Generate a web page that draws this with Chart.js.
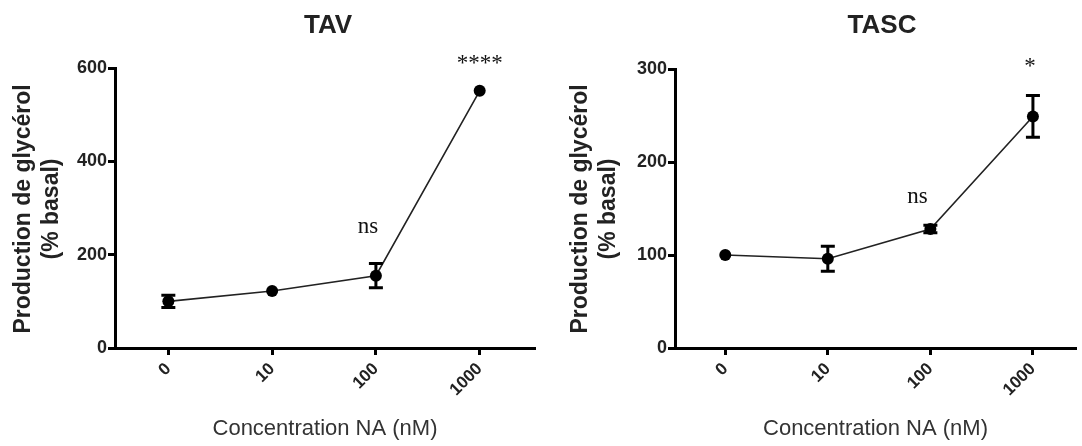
<!DOCTYPE html>
<html>
<head>
<meta charset="utf-8">
<script src="https://cdn.jsdelivr.net/npm/chart.js@4.4.1/dist/chart.umd.min.js"></script>
<style>
    body { margin: 0; background: #fff; }
    .panel { position: absolute; top: 0; }
</style>
</head>
<body>
<canvas id="tav_chart" class="panel" width="541" height="446" style="left: 0px;"></canvas>
<canvas id="tasc_chart" class="panel" width="541" height="446" style="left: 541px;"></canvas>

<script>
// concentrations of NA (nM)
const concentrations = ['0', '10', '100', '1000']

// TAV
const tavMean = [100, 122, 155, 551]
const tavSem = [13, 3, 26, 4]
const tavSignif = ['', '', 'ns', '****']
const tavTicks = [0, 200, 400, 600]

// TASC
const tascMean = [100, 96, 128, 249]
const tascSem = [1, 13.5, 4, 22.5]
const tascSignif = ['', '', 'ns', '*']
const tascTicks = [0, 100, 200, 300]

const textColor = '#222'
const sans = '"Liberation Sans", Arial, sans-serif'
const serif = '"Liberation Serif", "Times New Roman", serif'

// error bars, significance marks, titles
const decorations = {
    id: 'decorations',
    afterDatasetsDraw(chart, args, opts) {
        const ctx = chart.ctx
        const x = chart.scales.x
        const y = chart.scales.y

        ctx.save()
        ctx.strokeStyle = '#000'
        ctx.lineWidth = 3
        opts.mean.forEach((m, i) => {
            const px = x.getPixelForValue(i)
            const top = y.getPixelForValue(m + opts.sem[i])
            const bot = y.getPixelForValue(m - opts.sem[i])
            // bars shorter than the symbol are hidden, like in the original
            if ((bot - top) / 2 < 3) return
            ctx.beginPath()
            ctx.moveTo(px, top)
            ctx.lineTo(px, bot)
            ctx.moveTo(px - 7, top)
            ctx.lineTo(px + 7, top)
            ctx.moveTo(px - 7, bot)
            ctx.lineTo(px + 7, bot)
            ctx.stroke()
        })

        ctx.fillStyle = '#111'
        ctx.textAlign = 'center'
        ctx.textBaseline = 'alphabetic'
        ctx.font = '23px ' + serif
        opts.signif.forEach((s, i) => {
            if (!s) return
            const off = opts.signifOffset[i]
            const px = x.getPixelForValue(i) + off[0]
            const py = y.getPixelForValue(opts.mean[i] + opts.sem[i]) + off[1]
            ctx.fillText(s, px, py)
        })

        ctx.fillStyle = textColor
        ctx.font = 'bold 26px ' + sans
        ctx.fillText(opts.title, opts.titleX, 33)

        ctx.font = 'bold 23px ' + sans
        ctx.textBaseline = 'middle'
        ctx.translate(opts.yTitleX, opts.yTitleY)
        ctx.rotate(-Math.PI / 2)
        ctx.fillText('Production de glycérol', 0, 0)
        ctx.fillText('(% basal)', 0, 28)
        ctx.restore()
    }
}

function axisStyle() {
    return {
        border: { display: true, color: '#000', width: 3 },
        grid: { drawOnChartArea: false, drawTicks: true, tickLength: 7, tickWidth: 3, tickColor: '#000' }
    }
}

function createChart(id, mean, sem, signif, yTicks, cfg) {
    const ctx = document.getElementById(id).getContext('2d')
    return new Chart(ctx, {
        type: 'line',
        data: {
            datasets: [{
                data: mean.map((v, i) => ({ x: i, y: v })),
                borderColor: '#222',
                borderWidth: 1.6,
                pointRadius: 6,
                pointBackgroundColor: '#000',
                pointBorderColor: '#000',
                pointBorderWidth: 0,
                tension: 0
            }]
        },
        options: {
            responsive: false,
            animation: false,
            devicePixelRatio: 1,
            layout: { padding: { top: cfg.top, right: cfg.right, left: 0, bottom: 0 } },
            scales: {
                x: {
                    type: 'linear',
                    min: cfg.xMin,
                    max: cfg.xMax,
                    ...axisStyle(),
                    afterBuildTicks: scale => { scale.ticks = concentrations.map((c, i) => ({ value: i })) },
                    afterFit: scale => { scale.height = 98 },
                    ticks: {
                        autoSkip: false,
                        minRotation: 45,
                        maxRotation: 45,
                        padding: 4,
                        color: textColor,
                        font: { family: sans, size: 17, weight: 'bold' },
                        callback: v => concentrations[v]
                    },
                    title: {
                        display: true,
                        text: 'Concentration NA (nM)',
                        color: '#333',
                        padding: { top: 0, bottom: 4 },
                        font: { family: sans, size: 22 }
                    }
                },
                y: {
                    min: yTicks[0],
                    max: yTicks[yTicks.length - 1],
                    ...axisStyle(),
                    afterBuildTicks: scale => { scale.ticks = yTicks.map(v => ({ value: v })) },
                    afterFit: scale => { scale.width = cfg.yWidth },
                    ticks: {
                        padding: 1,
                        color: textColor,
                        font: { family: sans, size: 18, weight: 'bold' }
                    }
                }
            },
            plugins: {
                legend: { display: false },
                tooltip: { enabled: false },
                decorations: {
                    mean: mean,
                    sem: sem,
                    signif: signif,
                    signifOffset: cfg.signifOffset,
                    title: cfg.title,
                    titleX: cfg.titleX,
                    yTitleX: cfg.yTitleX,
                    yTitleY: 209
                }
            }
        },
        plugins: [decorations]
    })
}

createChart('tav_chart', tavMean, tavSem, tavSignif, tavTicks, {
    title: 'TAV', titleX: 328,
    top: 68, right: 1, yWidth: 115,
    xMin: -0.514, xMax: 3.533,
    yTitleX: 24,
    signifOffset: [[0, 0], [0, 0], [-8, -31], [0, -19]]
})

createChart('tasc_chart', tascMean, tascSem, tascSignif, tascTicks, {
    title: 'TASC', titleX: 341,
    top: 69, right: 0, yWidth: 134,
    xMin: -0.49, xMax: 3.42,
    yTitleX: 40,
    signifOffset: [[0, 0], [0, 0], [-13, -22], [-3, -23]]
})
</script>
</body>
</html>
